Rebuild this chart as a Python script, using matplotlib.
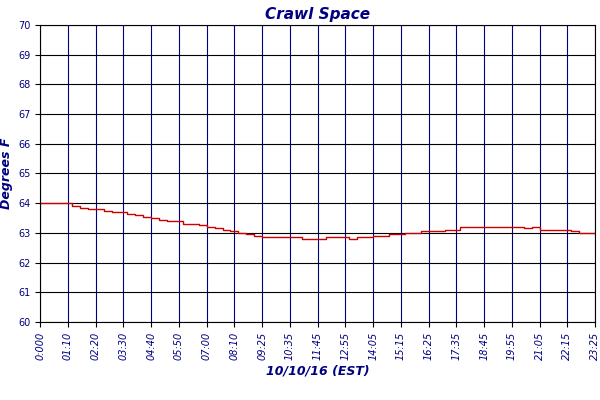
import matplotlib
matplotlib.use("Agg")
import matplotlib.pyplot as plt

tick_labels = ["0:000","01:10","02:20","03:30","04:40","05:50","07:00","08:10","09:25","10:35",
               "11:45","12:55","14:05","15:15","16:25","17:35","18:45","19:55","21:05","22:15","23:25"]
minutes = list(range(0, 1421, 20))
temps = [64.0,64.0,64.0,64.0,63.9,63.85,63.8,63.8,63.75,63.7,63.7,63.65,63.6,63.55,63.5,63.45,
         63.4,63.4,63.3,63.3,63.25,63.2,63.15,63.1,63.05,63.0,62.95,62.9,62.85,62.85,62.85,62.85,
         62.85,62.8,62.8,62.8,62.85,62.85,62.85,62.8,62.85,62.85,62.9,62.9,62.95,62.95,63.0,63.0,
         63.05,63.05,63.05,63.1,63.1,63.2,63.2,63.2,63.2,63.2,63.2,63.2,63.2,63.15,63.2,63.1,
         63.1,63.1,63.1,63.05,63.0,63.0,62.95,62.95]

navy = "#000080"
fig = plt.figure(figsize=(6, 4), dpi=100)
ax = fig.add_axes([0.067, 0.195, 0.925, 0.7425])
ax.step(minutes, temps, where="post", color="#cc0000", lw=1, label="Crawl Space")
ax.set_xlim(0, 1400)
ax.set_ylim(60, 70)
ax.set_xticks([i * 70 for i in range(len(tick_labels))])
ax.set_xticklabels(tick_labels, rotation=90, fontsize=7, color=navy, style="italic")
ax.set_yticks(range(60, 71))
ax.tick_params(axis="y", labelsize=7, labelcolor=navy)
ax.grid(True, axis="x", color=navy, lw=0.8)
ax.grid(True, axis="y", color="black", lw=0.8)
for s in ax.spines.values():
    s.set_color("black")
ax.set_title("Crawl Space", color=navy, fontsize=11, style="italic", fontweight="bold", pad=4)
ax.set_ylabel("Degrees F", color=navy, fontsize=9, style="italic", fontweight="bold", labelpad=4)
ax.set_xlabel("10/10/16 (EST)", color=navy, fontsize=9, style="italic", fontweight="bold", labelpad=3)
leg = ax.legend(loc="upper center", bbox_to_anchor=(0.5, -0.27), frameon=False, fontsize=7,
                handlelength=1.2, borderpad=0.1)
for t in leg.get_texts():
    t.set_color(navy); t.set_style("italic"); t.set_fontweight("bold")
fig.savefig("out.png")
